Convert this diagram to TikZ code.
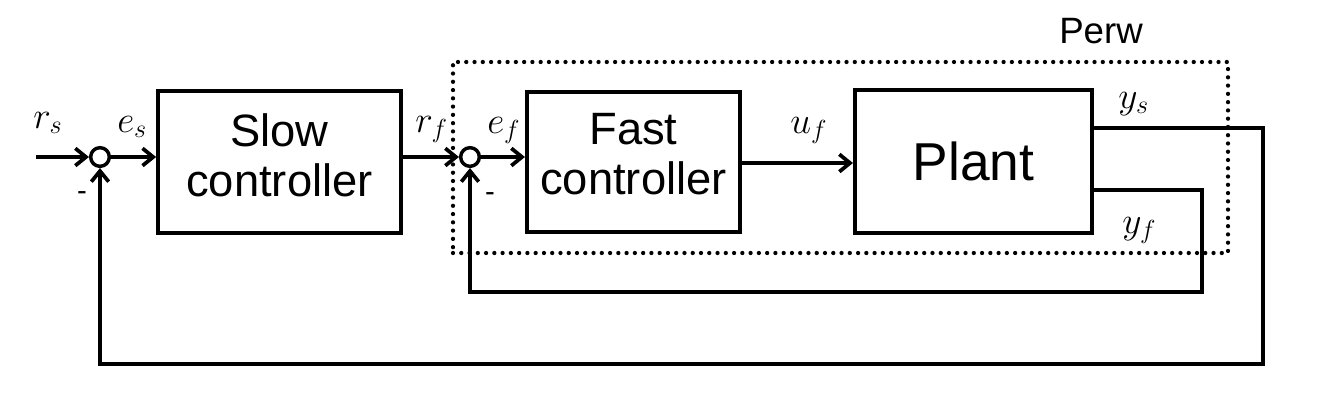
\RequirePackage{fix-cm}
\documentclass[tikz,border=0pt]{standalone}
\usepackage{fontspec}
\setmainfont{Liberation Sans}
\usetikzlibrary{arrows.meta}
\begin{document}
\begin{tikzpicture}[x=0.75pt,y=-0.75pt,
  blk/.style={draw,line width=2.8pt,inner sep=0pt},
  btxt/.style={inner sep=0pt,align=center,font=\fontsize{34}{37.5}\selectfont},
  sumc/.style={draw,circle,line width=2.6pt,minimum size=14pt,inner sep=0pt},
  sig/.style={line width=2.8pt},
  arr/.style={sig,-{Straight Barb[length=8pt,width=13pt]}},
  lbl/.style={anchor=base west,inner sep=0pt,font=\fontsize{28}{30}\selectfont},
  dotbox/.style={draw,line width=3.2pt,line cap=round,dash pattern=on 0pt off 6.2pt},
  minus/.style={inner sep=0pt,font=\fontsize{22}{24}\selectfont}
]
\useasboundingbox (0,0) rectangle (1334,407);
% dotted subsystem box
\node[dotbox,minimum width=581.25pt,minimum height=143.25pt,inner sep=0pt] (perw) at (840.5,157.5) {};
\node[anchor=base west,inner sep=0pt,font=\fontsize{27.5}{30}\selectfont] (perwlbl) at (1059,43) {Perw};
% blocks
\node[blk,minimum width=182.25pt,minimum height=106.5pt] (slow) at (279.5,162) {};
\node[btxt] (slowt) at (279.5,155) {Slow\\controller};
\node[blk,minimum width=160pt,minimum height=105pt] (fast) at (633.5,162) {};
\node[btxt] (fastt) at (633.5,154) {Fast\\controller};
\node[blk,minimum width=178pt,minimum height=107pt,font=\fontsize{40}{42}\selectfont] (plant) at (973.5,161.5) {Plant};
% summing junctions
\node[sumc] (s1) at (100,157) {};
\node[sumc] (s2) at (470,157) {};
% coordinates
\coordinate (rin) at (36,157);
\coordinate (ufc) at (800,163);
\coordinate (ysc) at (1263,128);
\coordinate (yfc) at (1202,190);
\coordinate (ob) at (1263,364);
\coordinate (ib) at (1202,292);
% connectors
\draw[arr] (rin) -- (s1.west);
\draw[arr] (s1.east) -- (s1 -| slow.west);
\draw[arr] (s1 -| slow.east) -- (s2.west);
\draw[arr] (s2.east) -- (s2 -| fast.west);
\draw[arr] (ufc -| fast.east) -- (ufc -| plant.west);
\draw[arr] (ysc -| plant.east) -- (ysc) -- (ob) -| (s1.south);
\draw[arr] (yfc -| plant.east) -- (yfc) -- (ib) -| (s2.south);
% labels
\node[lbl] (lrs) at (33,128) {$r_s$};
\node[lbl] (les) at (117,132) {$e_s$};
\node[lbl] (lrf) at (415,132) {$r_f$};
\node[lbl] (lef) at (487,133) {$e_f$};
\node[lbl] (luf) at (790,133) {$u_f$};
\node[lbl] (lys) at (1118,108) {$y_s$};
\node[lbl] (lyf) at (1122,233) {$y_f$};
\node[minus] (m1) at (82,196) {-};
\node[minus] (m2) at (490,197) {-};
\end{tikzpicture}
\end{document}
